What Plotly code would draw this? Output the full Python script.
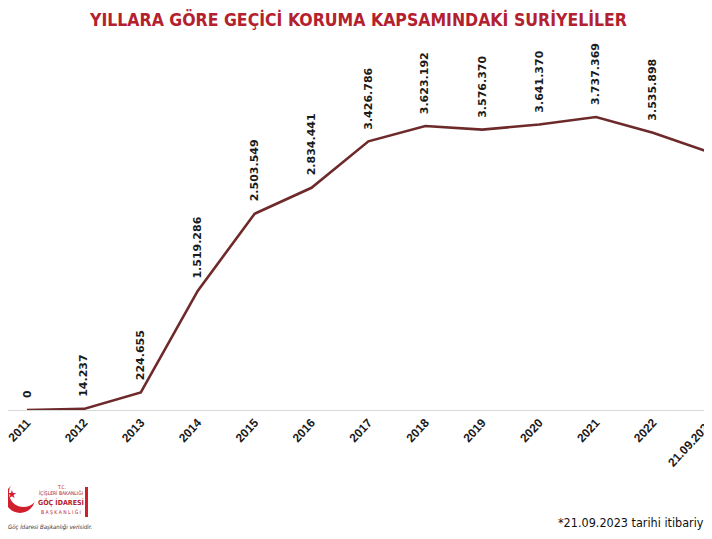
import plotly.graph_objects as go

years = ["2011", "2012", "2013", "2014", "2015", "2016", "2017", "2018",
         "2019", "2020", "2021", "2022", "21.09.2023"]
values = [0, 14237, 224655, 1519286, 2503549, 2834441, 3426786, 3623192,
          3576370, 3641370, 3737369, 3535898, 3284679]
labels = ["0", "14.237", "224.655", "1.519.286", "2.503.549", "2.834.441",
          "3.426.786", "3.623.192", "3.576.370", "3.641.370", "3.737.369",
          "3.535.898", "3.284.679"]

title = "YILLARA GÖRE GEÇİCİ KORUMA KAPSAMINDAKİ SURİYELİLER"
footnote = "*21.09.2023 tarihi itibariyle"

RED = "#b3212e"
LINE = "#6e2a2a"
NARROW = "DejaVu Sans Condensed, Roboto"

W, HT = 712, 539
OFF = 8  # page body offset
MT, MB = 62, 137
H = HT - MT - MB

def py(yp):  # window pixel y -> paper y
    return (HT - MB - (yp - OFF)) / H

def px(xp):  # window pixel x -> paper x
    return (xp - OFF) / W

fig = go.Figure()
fig.add_trace(go.Scatter(
    x=list(range(len(years))), y=values, mode="lines",
    line=dict(color=LINE, width=2.6), hoverinfo="skip", cliponaxis=False,
))

for i, (v, t) in enumerate(zip(values, labels)):
    fig.add_annotation(x=i, y=v, xref="x", yref="y", text="<b>" + t + "</b>",
                       showarrow=False, textangle=-90, yanchor="bottom",
                       xanchor="center", yshift=10,
                       font=dict(family="DejaVu Sans", size=11, color="#1a1a1a"))

fig.update_layout(
    width=W, height=HT,
    margin=dict(l=0, r=0, t=MT, b=MB, autoexpand=False),
    paper_bgcolor="white", plot_bgcolor="white",
    showlegend=False,
    xaxis=dict(
        tickmode="array", tickvals=list(range(len(years))),
        ticktext=["<b>" + y + "</b>" for y in years],
        range=[-0.334, 12.179], tickangle=-47, showgrid=False, zeroline=False,
        showline=True, linecolor="#d9d9d9", linewidth=1, ticks="",
        ticklabeloverflow="allow",
        tickfont=dict(family="Liberation Sans", size=12, color="#1a1a1a"),
        fixedrange=True, automargin=False,
    ),
    yaxis=dict(range=[0, (HT - MT - MB) / 78.4 * 1e6], visible=False, showgrid=False,
               zeroline=False, fixedrange=True, automargin=False),
)

fig.add_annotation(x=px(358), y=py(19), xref="paper", yref="paper",
                   text="<b>" + title + "</b>", showarrow=False,
                   xanchor="center", yanchor="middle",
                   font=dict(family=NARROW, size=17.5, color=RED))

fig.add_annotation(x=px(556), y=py(522), xref="paper", yref="paper",
                   text=footnote, showarrow=False, xanchor="left", yanchor="middle",
                   font=dict(family=NARROW, size=12.5, color="#111111"))

# logo: crescent and star
fig.add_shape(type="circle", xref="paper", yref="paper",
              x0=px(5), x1=px(35), y0=py(483), y1=py(513),
              fillcolor="#d0202e", line=dict(width=0), layer="above")
fig.add_shape(type="circle", xref="paper", yref="paper",
              x0=px(9), x1=px(38), y0=py(479), y1=py(507),
              fillcolor="white", line=dict(width=0), layer="above")
fig.add_annotation(x=px(12), y=py(493), xref="paper", yref="paper", text="★",
                   showarrow=False, xanchor="center", yanchor="middle",
                   font=dict(size=11, color="#d0202e"))
logo_lines = [("T.C.", 487, 5, False), ("İÇİŞLERİ BAKANLIĞI", 493, 5, False),
              ("GÖÇ İDARESİ", 502, 7, True), ("B A Ş K A N L I Ğ I", 512, 5, False)]
for txt, yy, sz, bold in logo_lines:
    fig.add_annotation(x=px(61), y=py(yy), xref="paper", yref="paper",
                       text=("<b>%s</b>" % txt) if bold else txt,
                       showarrow=False, xanchor="center", yanchor="middle",
                       font=dict(family=NARROW, size=sz, color="#b3212e"))
fig.add_shape(type="rect", xref="paper", yref="paper",
              x0=px(85), x1=px(88), y0=py(517), y1=py(487),
              fillcolor="#d0202e", line=dict(width=0))
fig.add_annotation(x=px(6), y=py(527), xref="paper", yref="paper",
                   text="<i>Göç İdaresi Başkanlığı verisidir.</i>", showarrow=False,
                   xanchor="left", yanchor="middle",
                   font=dict(family=NARROW, size=6, color="#333333"))

fig.write_html("out.html")
